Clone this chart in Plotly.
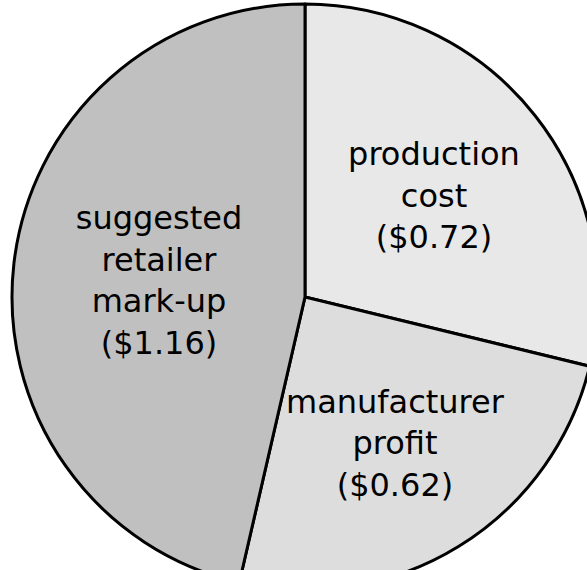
import plotly.graph_objs as go

# slice data, clockwise from 12 o'clock
labels = ['production<br>cost', 'manufacturer<br>profit', 'suggested<br>retailer<br>mark-up']
values = [0.72, 0.62, 1.16]
slice_colors = ['#e8e8e8', '#dddddd', '#c0c0c0']

pie = go.Pie(labels=labels, values=values,
             sort=False, direction='clockwise', rotation=0,
             marker=dict(colors=slice_colors, line=dict(color='black', width=3)),
             texttemplate='%{label}<br>(%{value:$.2f})',
             textposition='inside', insidetextorientation='horizontal',
             textfont=dict(family='DejaVu Sans', size=32, color='black'),
             hoverinfo='label+value', showlegend=False)

fig = go.Figure(pie)

# the circle runs slightly past the right and bottom edges of the window
fig.update_layout(width=610, height=594,
                  margin=dict(l=12, r=12, t=4, b=4),
                  paper_bgcolor='white', plot_bgcolor='white',
                  uniformtext=dict(minsize=32, mode='show'))

fig.write_html("out.html", config={'displayModeBar': False},
               post_script="document.body.style.margin='0';"
                           "document.body.style.overflow='hidden';")
